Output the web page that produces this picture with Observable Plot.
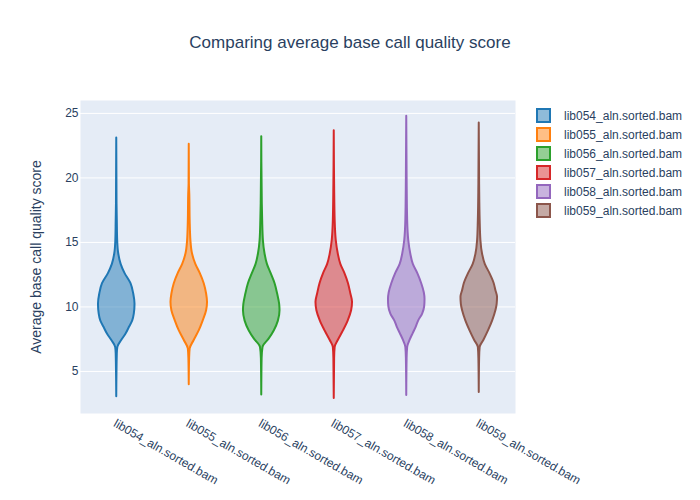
<!DOCTYPE html>
<html>
<head>
<meta charset="utf-8">
<script src="https://cdn.jsdelivr.net/npm/d3@7"></script>
<script src="https://cdn.jsdelivr.net/npm/@observablehq/plot@0.6"></script>
<style>
  html, body { margin: 0; padding: 0; background: #fff; }
  #wrap { position: relative; width: 700px; height: 500px; font-family: "Liberation Sans", Arial, sans-serif; color: #2a3f5f; }
  #title { position: absolute; left: 0; width: 700px; top: 33px; text-align: center; font-size: 17px; }
  #legend { position: absolute; left: 536px; top: 106px; font-size: 12px; }
  .item { height: 19px; display: flex; align-items: center; }
  .sw { width: 11px; height: 11px; border: 2px solid; margin-right: 13px; box-sizing: content-box; }
</style>
</head>
<body>
<div id="wrap">
  <div id="title"></div>
  <div id="legend"></div>
  <div id="chart"></div>
</div>
<script>
const title = "Comparing average base call quality score";
const yLabel = "Average base call quality score";
const libs = ["lib054_aln.sorted.bam", "lib055_aln.sorted.bam", "lib056_aln.sorted.bam",
              "lib057_aln.sorted.bam", "lib058_aln.sorted.bam", "lib059_aln.sorted.bam"];
const colors = ["#1f77b4", "#ff7f0e", "#2ca02c", "#d62728", "#9467bd", "#8c564b"];
const yTicks = [5, 10, 15, 20, 25];

// [quality score, relative density half-width]
const lib054 = [[3.04,0],[6.35,0.03],[6.87,0.06],[7.4,0.27],[7.9,0.51],[8.4,0.69],[8.9,0.87],[9.45,0.96],[10.2,1.0],[11.0,0.93],[11.8,0.78],[12.6,0.45],[13.3,0.24],[14.1,0.11],[15.15,0.05],[16.7,0.03],[18.0,0.015],[23.09,0]];
const lib055 = [[3.97,0],[6.0,0.02],[6.74,0.05],[7.4,0.27],[8.16,0.55],[8.9,0.76],[9.7,0.95],[10.36,1.0],[11.0,0.95],[11.8,0.82],[12.6,0.6],[13.3,0.36],[14.1,0.18],[15.15,0.09],[16.7,0.05],[18.7,0.03],[19.5,0.01],[22.6,0]];
const lib056 = [[3.17,0],[6.0,0.02],[6.87,0.07],[7.5,0.4],[8.16,0.69],[8.9,0.91],[9.7,1.0],[10.2,0.98],[11.0,0.87],[11.8,0.73],[12.6,0.51],[13.3,0.31],[14.1,0.18],[15.15,0.09],[16.7,0.05],[18.0,0.03],[23.2,0]];
const lib057 = [[2.9,0],[6.0,0.02],[6.87,0.05],[7.4,0.22],[8.16,0.51],[8.9,0.76],[9.7,0.95],[10.36,1.0],[11.0,0.91],[11.8,0.78],[12.6,0.58],[13.3,0.36],[14.1,0.22],[15.15,0.11],[16.7,0.05],[19.5,0.02],[23.66,0]];
const lib058 = [[3.14,0],[6.0,0.02],[6.87,0.05],[7.4,0.18],[7.95,0.36],[8.4,0.51],[8.9,0.65],[9.45,0.87],[10.0,0.98],[10.6,1.0],[11.1,0.96],[11.8,0.82],[12.6,0.6],[13.3,0.36],[14.1,0.22],[15.15,0.11],[16.7,0.05],[20.0,0.02],[24.77,0]];
const lib059 = [[3.37,0],[6.0,0.02],[6.87,0.05],[7.4,0.25],[8.16,0.51],[8.9,0.73],[9.7,0.91],[10.2,0.98],[10.75,1.0],[11.27,0.91],[11.8,0.82],[12.6,0.58],[13.3,0.33],[14.1,0.18],[15.15,0.09],[16.7,0.05],[19.5,0.02],[24.25,0]];
const profiles = [lib054, lib055, lib056, lib057, lib058, lib059];

const K = 0.252; // max half-width in category units
const rows = profiles.flatMap((p, i) => p.map(([q, w]) => ({lib: libs[i], i, q, w})));

document.getElementById("title").textContent = title;
const legend = document.getElementById("legend");
libs.forEach((l, i) => {
  const it = document.createElement("div");
  it.className = "item";
  const sw = document.createElement("div");
  sw.className = "sw";
  sw.style.borderColor = colors[i];
  sw.style.background = d3.color(colors[i]).copy({opacity: 0.5}).formatRgb();
  it.appendChild(sw);
  const t = document.createElement("span");
  t.textContent = l;
  it.appendChild(t);
  legend.appendChild(it);
});

const chart = Plot.plot({
  width: 700,
  height: 500,
  marginLeft: 80,
  marginRight: 185,
  marginTop: 100,
  marginBottom: 87,
  style: {fontFamily: "Liberation Sans, Arial, sans-serif", color: "#2a3f5f", background: "transparent", overflow: "visible"},
  x: {domain: [-0.5, 5.5]},
  y: {domain: [1.74, 26.0]},
  color: {domain: libs, range: colors},
  marks: [
    Plot.frame({fill: "#E5ECF6", stroke: "none"}),
    Plot.gridY(yTicks, {stroke: "white", strokeOpacity: 1, strokeWidth: 1}),
    Plot.axisY(yTicks, {tickSize: 0, tickPadding: 2, fontSize: 12, label: null}),
    Plot.axisX(d3.range(libs.length), {tickFormat: i => libs[i], tickRotate: 30, tickSize: 0, tickPadding: 9, dx: -2, fontSize: 12, label: null}),
    Plot.text([yLabel], {frameAnchor: "left", textAnchor: "middle", rotate: -90, dx: -44, fontSize: 14, fill: "#2a3f5f"}),
    Plot.areaX(rows, {
      y: "q",
      x1: d => d.i - d.w * K,
      x2: d => d.i + d.w * K,
      z: "lib",
      fill: "lib",
      fillOpacity: 0.5,
      stroke: "lib",
      strokeWidth: 2,
      strokeLinejoin: "round",
      curve: "monotone-y"
    })
  ]
});
document.getElementById("chart").appendChild(chart);
</script>
</body>
</html>
